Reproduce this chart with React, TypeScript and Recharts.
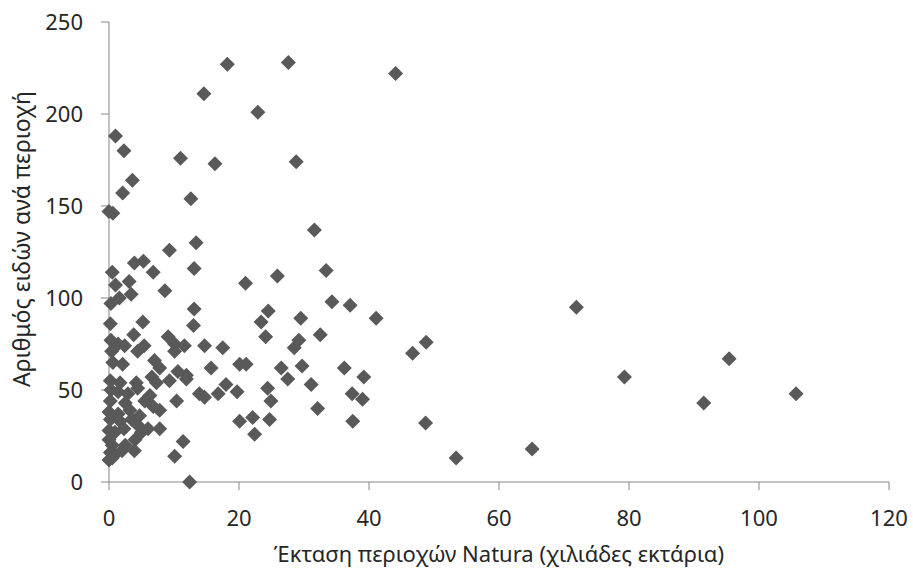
import React from 'react';
import { ScatterChart, Scatter, XAxis, YAxis } from 'recharts';

const areaThousandHa: number[] = [
  18.2, 27.6, 14.6, 22.9, 44.1, 1.0, 2.3, 11.0, 16.3, 28.8,
  3.6, 2.1, 12.6, 0.0, 0.6, 31.6, 13.4, 9.3, 5.3, 3.9,
  0.5, 6.8, 13.1, 3.1, 1.0, 21.0, 25.9, 8.6, 3.4, 1.6,
  0.3, 33.4, 34.3, 37.1, 41.1, 29.5, 13.1, 24.5, 0.2, 5.2,
  13.0, 23.4, 3.8, 9.1, 24.1, 32.5, 29.2, 0.3, 1.4, 2.4,
  5.4, 10.1, 11.6, 14.7, 17.5, 28.5, 4.4, 0.4, 10.1, 48.8,
  46.7, 71.9, 95.4, 79.3, 105.7, 91.5, 65.1, 53.4, 48.7, 0.6,
  2.1, 7.0, 7.8, 10.6, 11.9, 15.7, 20.1, 21.1, 26.5, 29.7,
  36.2, 39.2, 27.5, 31.1, 9.3, 11.9, 13.9, 14.7, 16.8, 18.0,
  19.7, 24.4, 24.9, 37.4, 39.0, 32.1, 10.4, 20.1, 22.1, 24.7,
  22.4, 37.5, 7.8, 11.4, 10.1, 12.4,
  0.2, 1.7, 4.2, 6.6, 7.3,
  0.3, 1.4, 2.9, 4.4, 6.3,
  0.2, 2.5, 5.5, 6.8, 7.8,
  0.0, 1.4, 3.2, 4.7,
  0.2, 1.7, 3.5, 4.4,
  0.0, 0.9, 2.3, 5.0, 6.0,
  0.0, 0.5, 2.5, 4.0,
  0.2, 0.9, 2.0, 3.9,
  0.0, 0.5,
];

const speciesPerArea: number[] = [
  227, 228, 211, 201, 222, 188, 180, 176, 173, 174,
  164, 157, 154, 147, 146, 137, 130, 126, 120, 119,
  114, 114, 116, 109, 107, 108, 112, 104, 102, 100,
  97, 115, 98, 96, 89, 89, 94, 93, 86, 87,
  85, 87, 80, 79, 79, 80, 77, 77, 75, 74,
  74, 75, 74, 74, 73, 73, 71, 71, 71, 76,
  70, 95, 67, 57, 48, 43, 18, 13, 32, 65,
  64, 66, 62, 60, 58, 62, 64, 64, 62, 63,
  62, 57, 56, 53, 55, 56, 48, 46, 48, 53,
  49, 51, 44, 48, 45, 40, 44, 33, 35, 34,
  26, 33, 29, 22, 14, 0,
  55, 54, 54, 57, 54,
  50, 49, 48, 51, 47,
  44, 43, 44, 41, 39,
  38, 37, 39, 36,
  34, 33, 34, 31,
  28, 27, 29, 27, 29,
  23, 20, 20, 23,
  16, 15, 17, 17,
  12, 13,
];

const xTicks: number[] = [0, 20, 40, 60, 80, 100, 120];
const yTicks: number[] = [0, 50, 100, 150, 200, 250];
const xTitle = 'Έκταση περιοχών Natura (χιλιάδες εκτάρια)';
const yTitle = 'Αριθμός ειδών ανά περιοχή';

const data = areaThousandHa.map((x, i) => ({ x, y: speciesPerArea[i] }));

const FONT = "'Noto Sans', sans-serif";
const TEXT = '#262626';
const AXIS = '#868686';

const Diamond = (props: any) => {
  const { cx, cy } = props;
  if (cx == null || cy == null) return null;
  const r = 7.5;
  return (
    <polygon
      points={`${cx},${cy - r} ${cx + r},${cy} ${cx},${cy + r} ${cx - r},${cy}`}
      fill="#595959"
    />
  );
};

const XTitle = (props: any) => {
  const vb = props.viewBox || {};
  const cx = vb.x + vb.width / 2;
  return (
    <text x={cx} y={vb.y + 80} textAnchor="middle" fontFamily={FONT} fontSize={22} fill={TEXT}>
      {xTitle}
    </text>
  );
};

const YTitle = (props: any) => {
  const vb = props.viewBox || {};
  const cy = vb.y + vb.height / 2 - 13;
  const x = 30;
  return (
    <text
      x={x}
      y={cy}
      textAnchor="middle"
      fontFamily={FONT}
      fontSize={23}
      fill={TEXT}
      transform={`rotate(-90 ${x} ${cy})`}
    >
      {yTitle}
    </text>
  );
};

export default function App() {
  return (
    <div style={{ position: 'absolute', left: 0, top: 0, width: 913, height: 572, background: '#fff' }}>
      <ScatterChart width={913} height={572} margin={{ top: 22, right: 24, bottom: 0, left: 0 }}>
        <XAxis
          type="number"
          dataKey="x"
          domain={[0, 120]}
          ticks={xTicks}
          height={90}
          axisLine={{ stroke: AXIS }}
          tickLine={{ stroke: AXIS }}
          tickSize={8}
          tickMargin={20}
          tick={{ fontFamily: FONT, fontSize: 22, fill: TEXT }}
          label={<XTitle />}
        />
        <YAxis
          type="number"
          dataKey="y"
          domain={[0, 250]}
          ticks={yTicks}
          width={109}
          axisLine={{ stroke: AXIS }}
          tickLine={{ stroke: AXIS }}
          tickSize={8}
          tickMargin={18}
          tick={{ fontFamily: FONT, fontSize: 22, fill: TEXT }}
          label={<YTitle />}
        />
        <Scatter data={data} shape={<Diamond />} isAnimationActive={false} />
      </ScatterChart>
    </div>
  );
}
